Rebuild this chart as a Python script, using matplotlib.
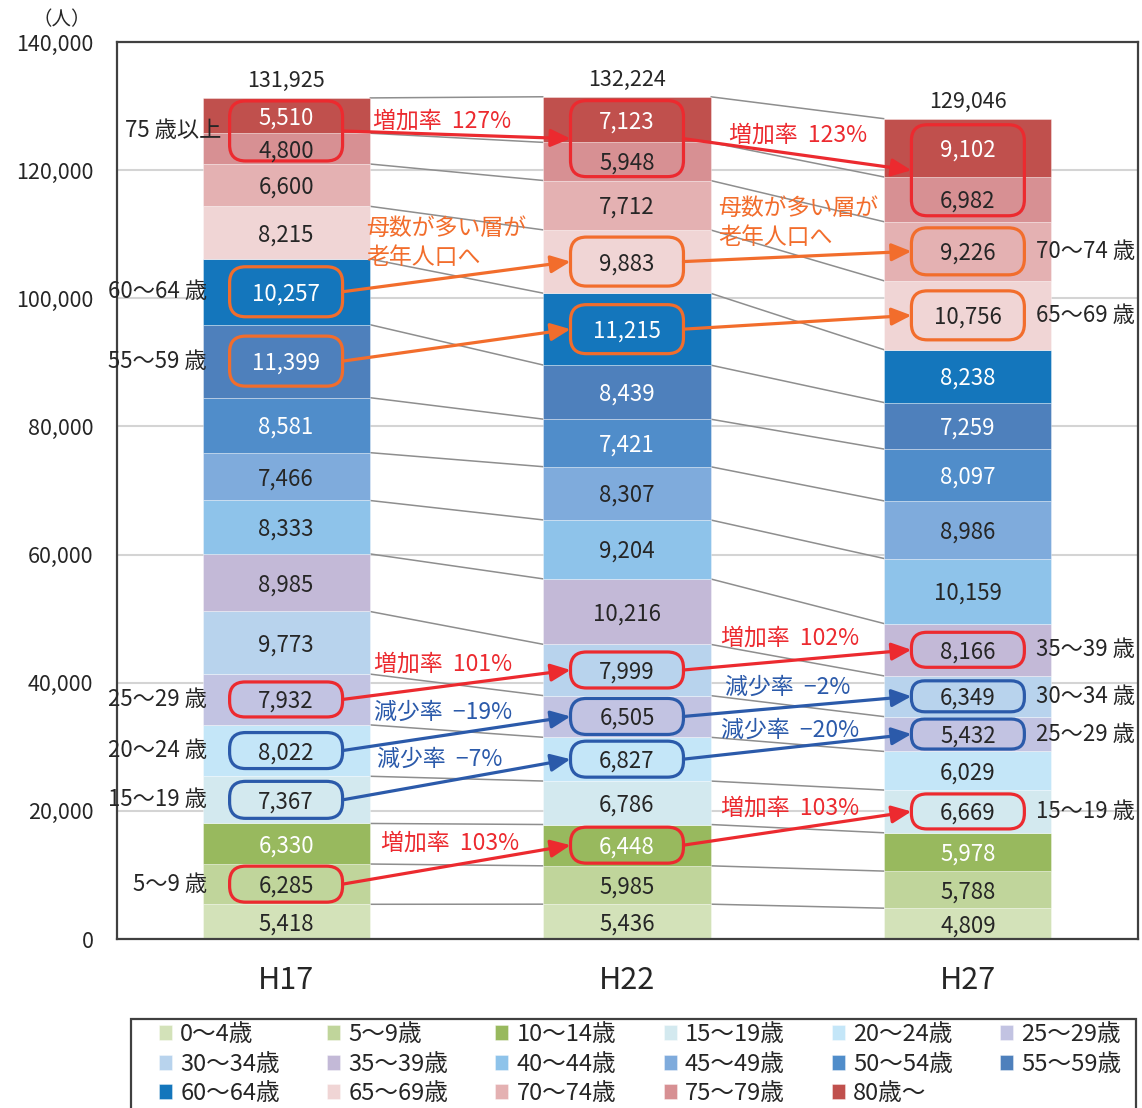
import matplotlib
matplotlib.use('Agg')
import matplotlib.pyplot as plt
from matplotlib.patches import FancyBboxPatch, Rectangle
from matplotlib.ticker import FuncFormatter
import numpy as np

plt.rcParams['font.family'] = ['Noto Sans CJK JP', 'DejaVu Sans']

# ---------------- data ----------------
years = ['H17', 'H22', 'H27']
age_groups = ['0〜4歳', '5〜9歳', '10〜14歳', '15〜19歳', '20〜24歳', '25〜29歳',
              '30〜34歳', '35〜39歳', '40〜44歳', '45〜49歳', '50〜54歳', '55〜59歳',
              '60〜64歳', '65〜69歳', '70〜74歳', '75〜79歳', '80歳〜']
pop_h17 = [5418, 6285, 6330, 7367, 8022, 7932, 9773, 8985, 8333, 7466, 8581,
           11399, 10257, 8215, 6600, 4800, 5510]
pop_h22 = [5436, 5985, 6448, 6786, 6827, 6505, 7999, 10216, 9204, 8307, 7421,
           8439, 11215, 9883, 7712, 5948, 7123]
pop_h27 = [4809, 5788, 5978, 6669, 6029, 5432, 6349, 8166, 10159, 8986, 8097,
           7259, 8238, 10756, 9226, 6982, 9102]
totals = [131925, 132224, 129046]

colors = ['#D3E2B9', '#C0D59B', '#98B95E', '#D3E9EF', '#C4E6F8', '#C2C3E2',
          '#B8D3ED', '#C3B9D7', '#8EC3EA', '#7FABDC', '#508DCA', '#4E80BC',
          '#1476BC', '#F0D5D5', '#E4B1B2', '#D79093', '#C0504D']
white_text = {2, 10, 11, 12, 16}

RED = '#EC2A2F'
ORANGE = '#F26D2C'
BLUE = '#2B5AAA'

# cohort chains: age-group index range in each survey year
chains = [
    dict(groups=[(15, 16), (15, 16), (15, 16)], color=RED, left='75 歳以上', right=None,
         rates=['増加率  127%', '増加率  123%'], hpx=[60, 76, 91]),
    dict(groups=[(12, 12), (13, 13), (14, 14)], color=ORANGE, left='60〜64 歳', right='70〜74 歳',
         rates=[None, None], hpx=[50, 49, 47]),
    dict(groups=[(11, 11), (12, 12), (13, 13)], color=ORANGE, left='55〜59 歳', right='65〜69 歳',
         rates=[None, None], hpx=[50, 49, 49]),
    dict(groups=[(5, 5), (6, 6), (7, 7)], color=RED, left='25〜29 歳', right='35〜39 歳',
         rates=['増加率  101%', '増加率  102%'], hpx=[35, 36, 35]),
    dict(groups=[(4, 4), (5, 5), (6, 6)], color=BLUE, left='20〜24 歳', right='30〜34 歳',
         rates=['減少率  −19%', '減少率  −2%'], hpx=[36, 36, 31]),
    dict(groups=[(3, 3), (4, 4), (5, 5)], color=BLUE, left='15〜19 歳', right='25〜29 歳',
         rates=['減少率  −7%', '減少率  −20%'], hpx=[37, 36, 30]),
    dict(groups=[(1, 1), (2, 2), (3, 3)], color=RED, left='5〜9 歳', right='15〜19 歳',
         rates=['増加率  103%', '増加率  103%'], hpx=[36, 36, 35]),
]
# rate label positions (x offset from bar, y in data units) for each chain's two arrows
rate_pos = [
    [(0.255, 127700), (0.300, 125500)],
    [None, None],
    [None, None],
    [(0.258, 42900), (0.276, 47000)],
    [(0.258, 35300), (0.288, 39200)],
    [(0.267, 28100), (0.276, 32500)],
    [(0.279, 15000), (0.276, 20400)],
]
note_text = '母数が多い層が\n老年人口へ'
note_pos = [(0.235, 108600), (0.267, 111700)]

# ---------------- figure ----------------
W, H = 1142, 1108
fig = plt.figure(figsize=(W / 100, H / 100), dpi=100)
ax = fig.add_axes([117 / W, 1 - 939 / H, (1138 - 117) / W, (939 - 42) / H])
ax.set_xlim(-0.496, 2.499)
ax.set_ylim(0, 140000)

TXT = '#262626'
data = np.array([pop_h17, pop_h22, pop_h27])  # (year, group)
x = np.arange(len(years))
bw = 0.49
cum = np.zeros(len(years))
bottoms = np.zeros_like(data, dtype=float)
handles = []
for k, name in enumerate(age_groups):
    vals = data[:, k]
    bottoms[:, k] = cum
    b = ax.bar(x, vals, bw, bottom=cum, color=colors[k], edgecolor=(1, 1, 1, 0.5),
               linewidth=0.5, zorder=2, label=name)
    handles.append(b)
    for i in range(len(years)):
        ax.annotate(f'{vals[i]:,}', (x[i], cum[i] + vals[i] / 2), xytext=(0, -1.5),
                    textcoords='offset points', ha='center', va='center',
                    fontsize=16, color='white' if k in white_text else TXT, zorder=6)
    cum = cum + vals
tops = bottoms + data

# connecting lines between bars
for i in range(len(years) - 1):
    for k in range(len(age_groups)):
        ax.plot([x[i] + bw / 2, x[i + 1] - bw / 2], [tops[i, k], tops[i + 1, k]],
                color='#8E8E8E', lw=1.1, zorder=1.5, solid_capstyle='butt')

# totals
for i in range(len(years)):
    ax.annotate(f'{totals[i]:,}', (x[i], tops[i, -1]), xytext=(0, 4),
                textcoords='offset points', ha='center', va='bottom', fontsize=15.5,
                color=TXT)

# axes styling
ax.yaxis.set_major_locator(plt.MultipleLocator(20000))
ax.yaxis.set_major_formatter(FuncFormatter(lambda v, p: f'{int(v):,}'))
ax.yaxis.grid(True, color='#D4D4D4', lw=1.5)
ax.set_axisbelow(True)
ax.set_xticks(x)
ax.set_xticklabels(years, fontsize=22)
ax.tick_params(axis='both', length=0)
ax.tick_params(axis='y', labelsize=15.5, pad=17, colors=TXT)
ax.tick_params(axis='x', pad=19, colors=TXT)
for s in ax.spines.values():
    s.set_color('#404040')
    s.set_linewidth(1.6)

fig.text(62 / W, 1 - 20 / H, '（人）', ha='center', va='center', fontsize=14, color=TXT)

# cohort boxes and arrows
px_y = 140000 / 897.0   # data units per pixel (y)
px_x = 1 / 341.0        # data units per pixel (x)
box_w = 113 * px_x
aspect = px_y / px_x
for c_i, ch in enumerate(chains):
    centers = []
    for i, (lo, hi) in enumerate(ch['groups']):
        y0 = bottoms[i, lo]
        y1 = tops[i, hi]
        cy = (y0 + y1) / 2
        centers.append(cy)
        h = ch['hpx'][i] * px_y
        r = min(16, ch['hpx'][i] / 2 - 2) * px_x
        box = FancyBboxPatch((x[i] - box_w / 2, cy - h / 2), box_w, h,
                             boxstyle=f'round,pad=0,rounding_size={r}',
                             mutation_aspect=aspect, fill=False,
                             edgecolor=ch['color'], lw=2.3, zorder=5)
        ax.add_patch(box)
    for i in range(len(years) - 1):
        ax.annotate('', xy=(x[i + 1] - box_w / 2, centers[i + 1]),
                    xytext=(x[i] + box_w / 2, centers[i]),
                    arrowprops=dict(arrowstyle='-|>,head_length=0.85,head_width=0.38',
                                    color=ch['color'], lw=2.3, shrinkA=0, shrinkB=0,
                                    mutation_scale=14),
                    zorder=5)
        if ch['rates'][i]:
            px, py = rate_pos[c_i][i]
            ax.text(x[i] + px, py, ch['rates'][i], ha='left', va='center', fontsize=16.5,
                    color=ch['color'], zorder=6)
    if ch['left']:
        xr = x[0] - (0.19 if c_i == 0 else 0.232)
        ax.text(xr, centers[0], ch['left'], ha='right', va='center', fontsize=16,
                color=TXT, zorder=6)
    if ch['right']:
        ax.text(x[-1] + 0.2, centers[-1], ch['right'], ha='left', va='center', fontsize=16,
                color=TXT, zorder=6)

for i, (px, py) in enumerate(note_pos):
    ax.text(x[i] + px, py, note_text, ha='left', va='center', fontsize=16.5,
            color=ORANGE, linespacing=1.32, zorder=6)

# legend (row-major order)
ncol = 6
order = []
for j in range(ncol):
    for r in range(3):
        idx = r * ncol + j
        if idx < len(age_groups):
            order.append(idx)
leg = fig.legend([handles[i] for i in order], [age_groups[i] for i in order],
                 loc='upper left', bbox_to_anchor=(159 / W, 1 - 1023 / H), ncol=ncol,
                 frameon=False, fontsize=17, handlelength=0.55, handleheight=0.6,
                 handletextpad=0.35, columnspacing=2.0, labelspacing=0.28, borderpad=0,
                 borderaxespad=0)
for t in leg.get_texts():
    t.set_color(TXT)
fig.patches.append(Rectangle((131 / W, 1 - 1125 / H), (1136 - 131) / W, (1125 - 1019) / H,
                             transform=fig.transFigure, fill=False, edgecolor='#404040',
                             lw=1.6))

fig.savefig('out.png', dpi=100)
